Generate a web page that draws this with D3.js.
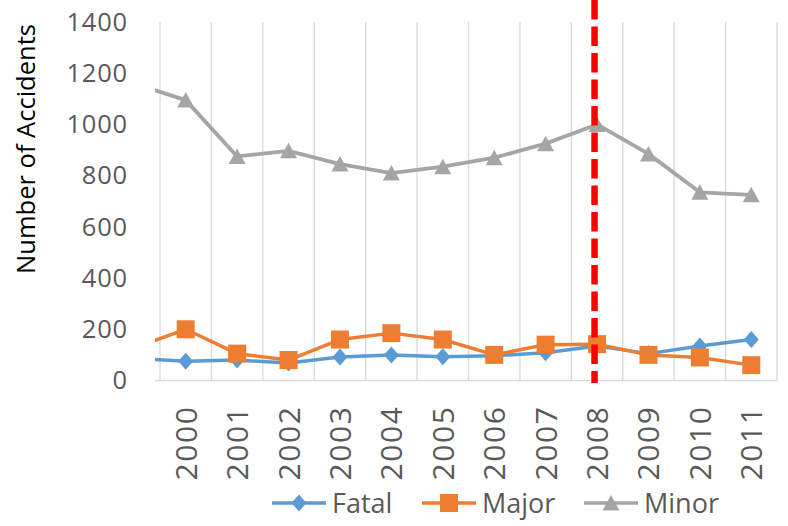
<!DOCTYPE html>
<html>
<head>
<meta charset="utf-8">
<script src="https://cdn.jsdelivr.net/npm/d3@7"></script>
<style>
  html, body { margin: 0; padding: 0; background: #ffffff; }
  svg { display: block; }
  text { font-family: "Open Sans", sans-serif; }
</style>
</head>
<body>
<svg id="chart" width="788" height="526"></svg>
<script>
// Accident counts per year; 1999 is kept so the lines run into the left edge.
const years = [1999, 2000, 2001, 2002, 2003, 2004, 2005, 2006, 2007, 2008, 2009, 2010, 2011];
const fatal = [86, 75, 80, 68, 92, 100, 93, 97, 108, 135, 105, 135, 160];
const major = [127, 200, 105, 80, 160, 185, 160, 100, 140, 142, 100, 90, 60];
const minor = [1160, 1095, 875, 897, 845, 810, 835, 870, 925, 1000, 885, 735, 725];

const xTickYears = [2000, 2001, 2002, 2003, 2004, 2005, 2006, 2007, 2008, 2009, 2010, 2011];
const yTicks = [0, 200, 400, 600, 800, 1000, 1200, 1400];
const seriesNames = ["Fatal", "Major", "Minor"];
const markerYear = 2008;

const colors = { Fatal: "#5B9BD5", Major: "#ED7D31", Minor: "#A5A5A5" };
const shapes = { Fatal: "diamond", Major: "square", Minor: "triangle" };
const seriesValues = { Fatal: fatal, Major: major, Minor: minor };

const svg = d3.select("#chart");

const plotLeft = 155, plotRight = 777, plotTop = 22, plotBottom = 380.5;

const x = d3.scaleLinear().domain([1999.5, 2011.5]).range([160, plotRight]);
const y = d3.scaleLinear().domain([0, 1400]).range([plotBottom, plotTop]);

// clip so the 1999 segment stops at the plot edge
svg.append("defs").append("clipPath").attr("id", "plotClip")
  .append("rect")
  .attr("x", plotLeft).attr("y", 0)
  .attr("width", plotRight - plotLeft + 20).attr("height", 400);

// vertical gridlines at category boundaries
const bounds = d3.range(1999.5, 2012, 1);
svg.append("g").selectAll("line").data(bounds).join("line")
  .attr("x1", d => x(d)).attr("x2", d => x(d))
  .attr("y1", plotTop).attr("y2", plotBottom)
  .attr("stroke", "#D9D9D9").attr("stroke-width", 1.3);

// horizontal axis line
svg.append("line")
  .attr("x1", plotLeft).attr("x2", plotRight)
  .attr("y1", plotBottom).attr("y2", plotBottom)
  .attr("stroke", "#D9D9D9").attr("stroke-width", 1.5);

// y axis labels
const yAxis = d3.axisLeft(y).tickValues(yTicks).tickSize(0).tickPadding(27).tickFormat(d3.format("d"));
const yg = svg.append("g").attr("transform", `translate(${plotLeft},0)`).call(yAxis);
yg.select(".domain").remove();
yg.selectAll("text")
  .attr("fill", "#595959")
  .style("font-size", "25.5px")
  .style("letter-spacing", "0.8px")
  .style("font-family", "'Open Sans', sans-serif");

// x axis labels, rotated
const xAxis = d3.axisBottom(x).tickValues(xTickYears).tickSize(0).tickFormat(d3.format("d"));
const xg = svg.append("g").attr("transform", `translate(0,${plotBottom})`).call(xAxis);
xg.select(".domain").remove();
xg.selectAll("text")
  .attr("fill", "#595959")
  .style("font-size", "30px")
  .style("letter-spacing", "1.6px")
  .style("font-family", "'Open Sans', sans-serif")
  .attr("text-anchor", "end")
  .attr("dy", "0.35em")
  .attr("y", 0)
  .attr("transform", "translate(0,25) rotate(-90)");

// y axis title
svg.append("text")
  .attr("transform", "translate(35,149) rotate(-90)")
  .attr("text-anchor", "middle")
  .attr("fill", "#000000")
  .style("font-size", "25.5px")
  .text("Number of Accidents");

function markerPath(shape) {
  if (shape === "diamond") return "M0,-8.5L7.5,0L0,8.5L-7.5,0Z";
  if (shape === "square") return "M-9,-9H9V9H-9Z";
  return "M0,-8L8.5,7.5H-8.5Z";
}

const lineGen = d3.line().x(d => x(d.year)).y(d => y(d.value));
const plot = svg.append("g").attr("clip-path", "url(#plotClip)");

seriesNames.forEach(name => {
  const pts = years.map((yr, i) => ({ year: yr, value: seriesValues[name][i] }));
  const g = plot.append("g");
  g.append("path")
    .datum(pts)
    .attr("d", lineGen)
    .attr("fill", "none")
    .attr("stroke", colors[name])
    .attr("stroke-width", name === "Minor" ? 3.8 : 3.5)
    .attr("stroke-linejoin", "round");
  g.selectAll("path.marker").data(pts).join("path")
    .attr("class", "marker")
    .attr("transform", d => `translate(${x(d.year)},${y(d.value)})`)
    .attr("d", markerPath(shapes[name]))
    .attr("fill", colors[name]);
});

// red dashed reference line
svg.append("line")
  .attr("x1", x(markerYear) - 2.5).attr("x2", x(markerYear) - 2.5)
  .attr("y1", 0).attr("y2", 383)
  .attr("stroke", "#FF0000")
  .attr("stroke-width", 6.5)
  .attr("stroke-dasharray", "19.5,7");

// legend
const legendItems = [
  { name: "Fatal", x0: 272 },
  { name: "Major", x0: 422 },
  { name: "Minor", x0: 584 }
];
const legendY = 503;
const lg = svg.append("g");
legendItems.forEach(item => {
  const g = lg.append("g");
  g.append("line")
    .attr("x1", item.x0).attr("x2", item.x0 + 54)
    .attr("y1", legendY).attr("y2", legendY)
    .attr("stroke", colors[item.name]).attr("stroke-width", 3.5);
  g.append("path")
    .attr("transform", `translate(${item.x0 + 27},${legendY})`)
    .attr("d", markerPath(shapes[item.name]))
    .attr("fill", colors[item.name]);
  g.append("text")
    .attr("x", item.x0 + 60).attr("y", legendY + 10)
    .attr("fill", "#595959")
    .style("font-size", "27px")
    .text(item.name);
});
</script>
</body>
</html>
